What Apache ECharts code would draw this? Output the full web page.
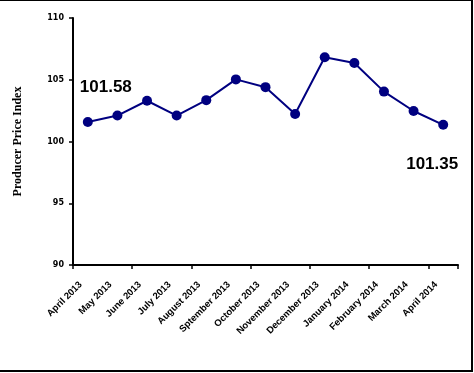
<!DOCTYPE html>
<html>
<head>
<meta charset="utf-8">
<script src="https://cdn.jsdelivr.net/npm/echarts@6/dist/echarts.min.js"></script>
<style>
html,body{margin:0;padding:0;background:#fff;}
#chart{width:474px;height:373px;}
</style>
</head>
<body>
<div id="chart"></div>
<script>
var categories = ["April 2013","May 2013","June 2013","July 2013","August 2013","Sptember 2013","October 2013","November 2013","December 2013","January 2014","February 2014","March 2014","April 2014"];
var ppiValues = [101.58,102.1,103.3,102.1,103.35,105.03,104.4,102.23,106.82,106.36,104.04,102.47,101.35];
var yTicks = [90,95,100,105,110];
var labelledIndices = [0, 12];

var chart = echarts.init(document.getElementById('chart'), null, {renderer:'canvas'});
var seriesData = ppiValues.map(function(v, i){
  var item = {value: v};
  if (i === labelledIndices[0]) {
    item.label = {show:true, position:'top', offset:[18,-16]};
  } else if (i === labelledIndices[1]) {
    item.label = {show:true, position:'bottom', offset:[-11,21]};
  }
  return item;
});

chart.setOption({
  animation:false,
  backgroundColor:'#fff',
  grid:{left:73, right:16, top:18, bottom:108, containLabel:false},
  xAxis:{
    type:'category',
    data:categories,
    boundaryGap:true,
    axisLine:{lineStyle:{color:'#000', width:2}},
    axisTick:{show:true, interval:1, length:4, lineStyle:{color:'#000', width:1.5}},
    axisLabel:{interval:0, rotate:45, margin:11, padding:[0,10,0,0], color:'#000', fontFamily:'Liberation Sans', fontWeight:'bold', fontSize:9.5}
  },
  yAxis:{
    type:'value',
    min:yTicks[0], max:yTicks[yTicks.length-1], interval:5,
    name:'Producer Price Index',
    nameLocation:'middle',
    nameGap:49,
    nameRotate:90,
    nameTextStyle:{fontFamily:'Liberation Serif', fontWeight:'bold', fontSize:12, color:'#000'},
    axisLine:{show:true, lineStyle:{color:'#000', width:2}},
    axisTick:{show:true, length:4, lineStyle:{color:'#000', width:1.5}},
    splitLine:{show:false},
    axisLabel:{margin:9, color:'#000', fontFamily:'DejaVu Sans', fontWeight:'bold', fontSize:8}
  },
  series:[{
    type:'line',
    data:seriesData,
    symbol:'circle',
    symbolSize:10,
    lineStyle:{color:'#000080', width:2},
    itemStyle:{color:'#000080'},
    label:{show:false, color:'#000', fontFamily:'Liberation Sans', fontWeight:'bold', fontSize:17}
  }],
  graphic:[
    {type:'line', shape:{x1:0, y1:0.5, x2:473, y2:0.5}, style:{stroke:'#000', lineWidth:1}},
    {type:'line', shape:{x1:472, y1:0, x2:472, y2:372}, style:{stroke:'#000', lineWidth:2}},
    {type:'line', shape:{x1:0, y1:371, x2:473, y2:371}, style:{stroke:'#000', lineWidth:2}}
  ]
});
</script>
</body>
</html>
